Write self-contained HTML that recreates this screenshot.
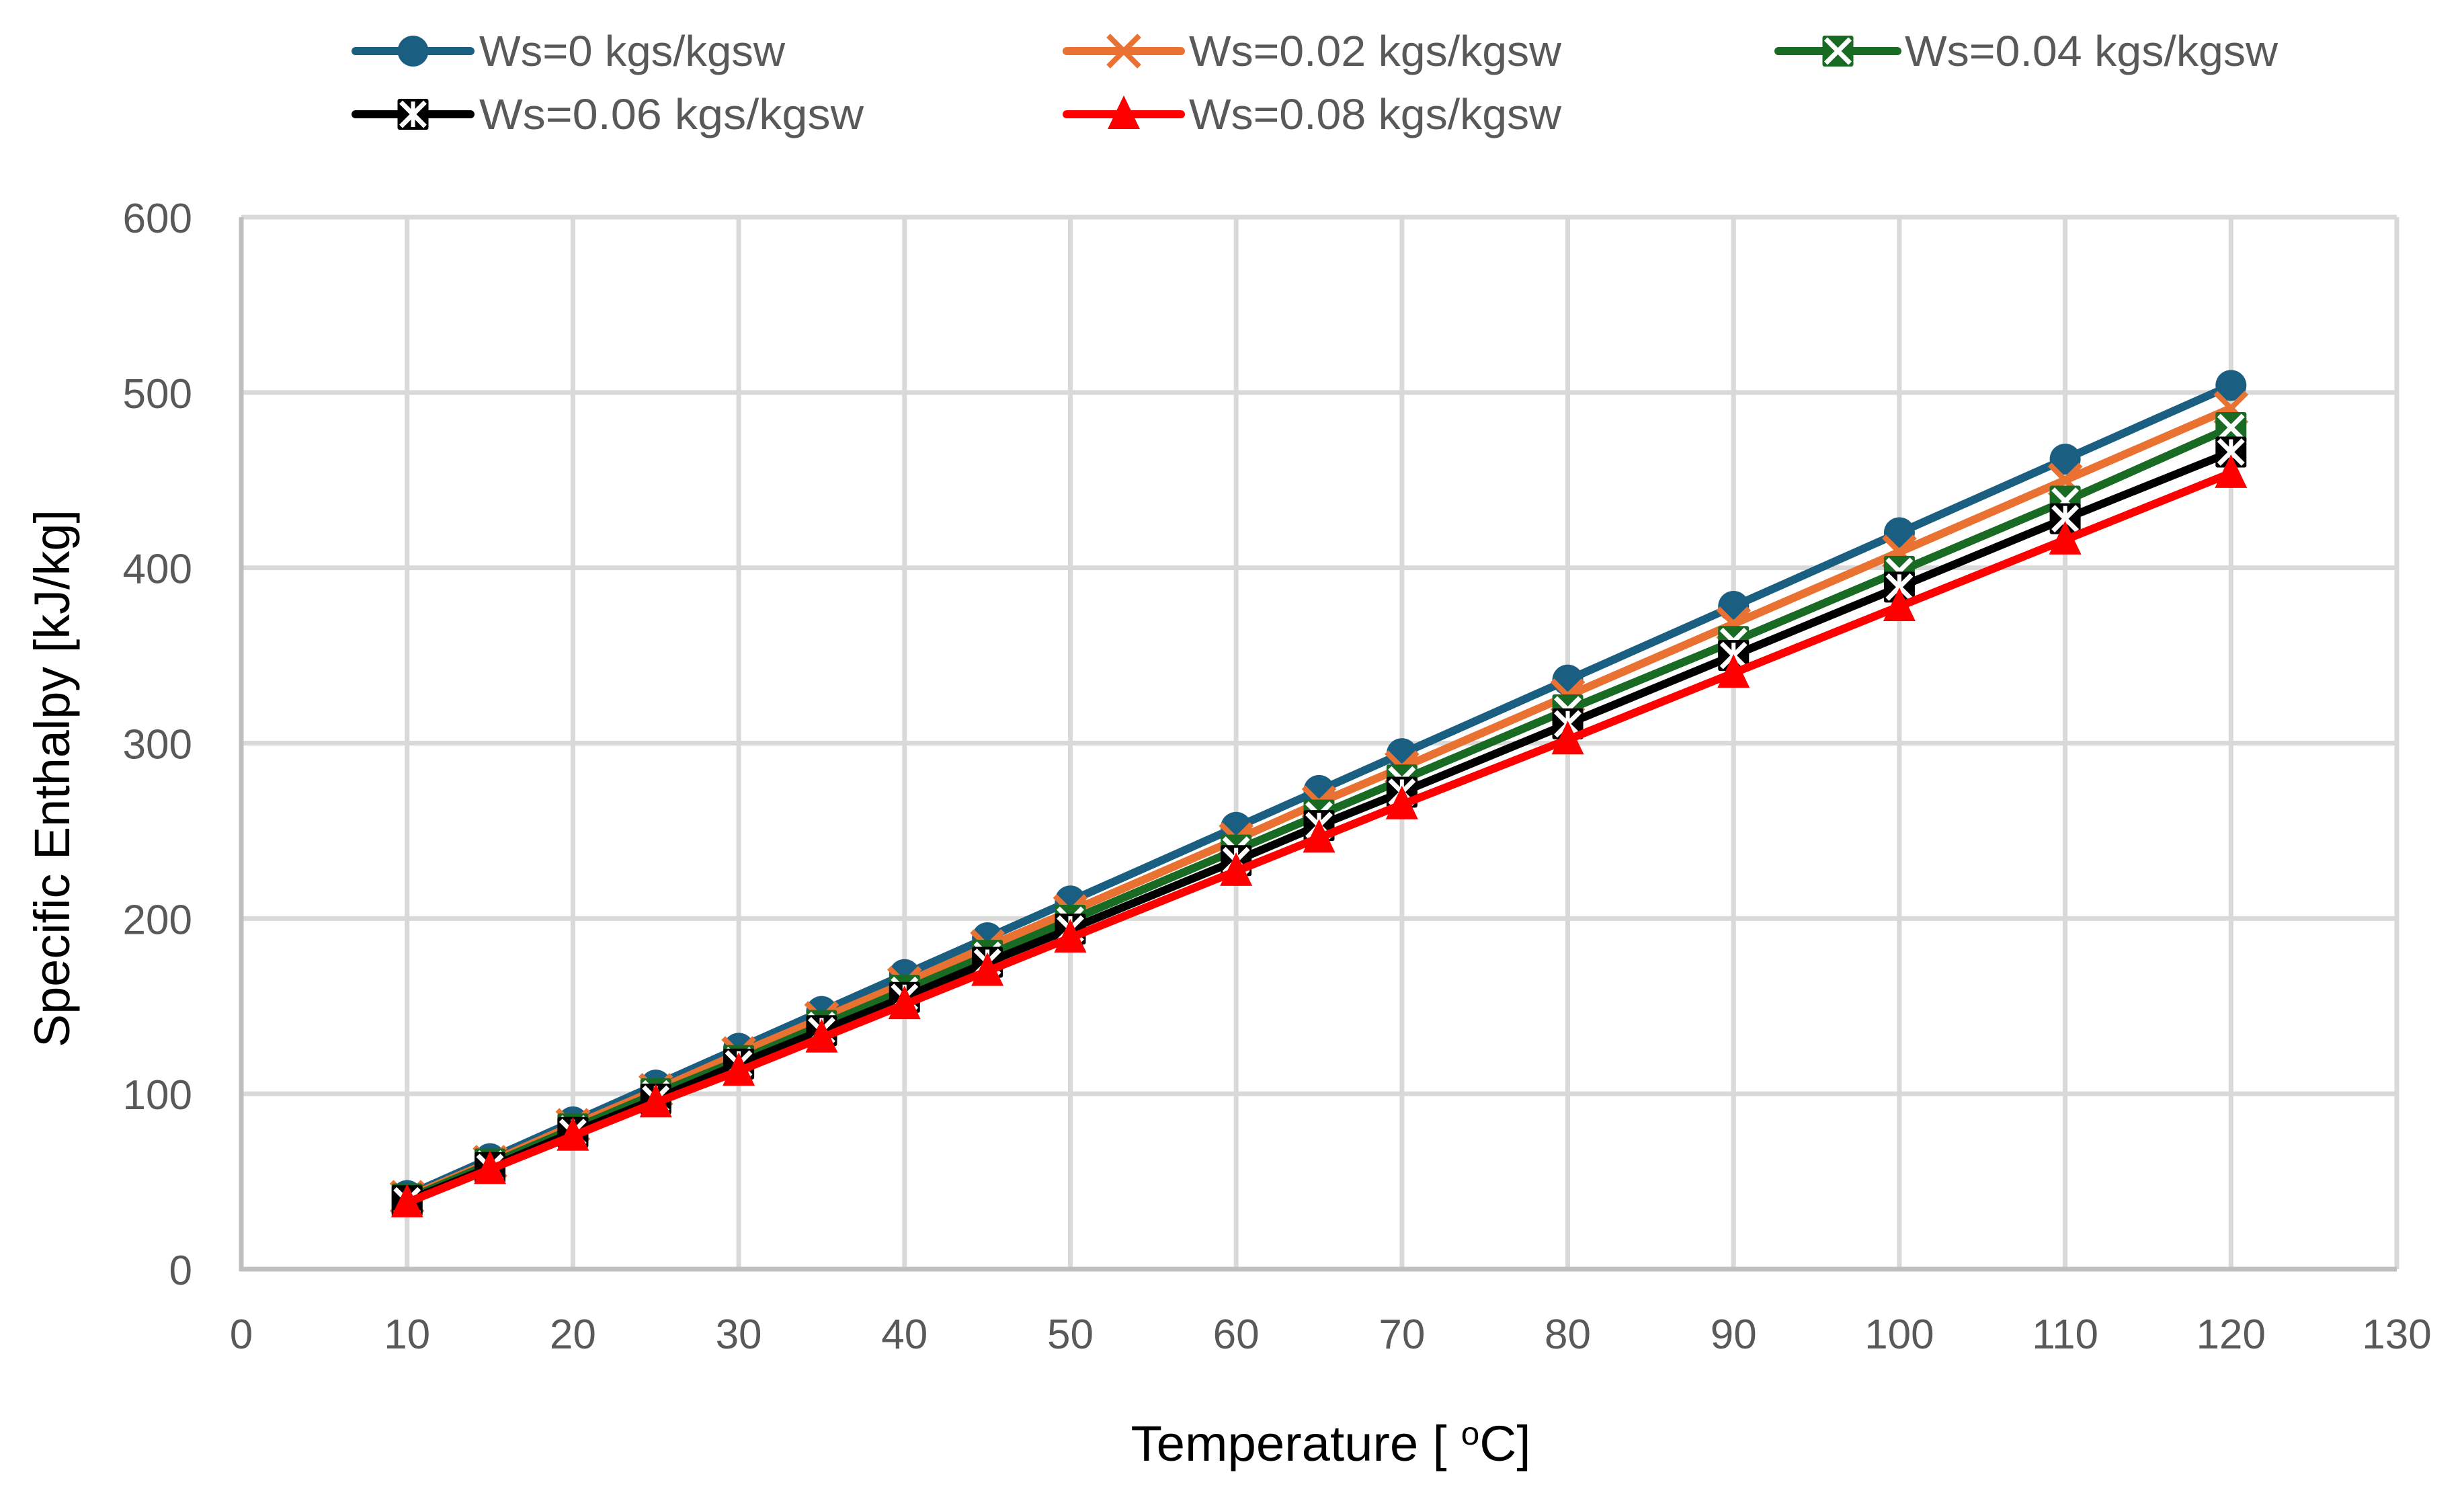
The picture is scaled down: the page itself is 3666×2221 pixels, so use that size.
<!DOCTYPE html>
<html><head><meta charset="utf-8">
<style>
html,body{margin:0;padding:0;background:#fff;}
svg{display:block;}
text{font-family:"Liberation Sans",sans-serif;}
</style></head>
<body>
<svg id="chart" width="3666" height="2221" viewBox="0 0 3666 2221" xmlns="http://www.w3.org/2000/svg">
<rect width="3666" height="2221" fill="#fff"/>
<g id="grid"></g>
<g id="axes"></g>
<g id="series"></g>
<g id="legend"></g>
<text x="1980" y="2173" font-size="74" text-anchor="middle" fill="#000" textLength="595" lengthAdjust="spacingAndGlyphs">Temperature [ <tspan font-size="48" dy="-24">o</tspan><tspan dy="24">C]</tspan></text>
<text transform="translate(103,1158) rotate(-90)" font-size="74" text-anchor="middle" fill="#000" textLength="800" lengthAdjust="spacingAndGlyphs">Specific Enthalpy [kJ/kg]</text>
</svg>
<script>
const temps = [10,15,20,25,30,35,40,45,50,60,65,70,80,90,100,110,120];
const ws0 = [42,63,84,105,126,147,168,189,210,252,273,294,336,378,420,462,504];
const ws02 = [41,61,82,102,123,143,163,184,204,245,266,286,327,368,409,450,491];
const ws04 = [40,60,80,100,119,139,159,179,199,239,259,279,319,358,398,438,480];
const ws06 = [39,58,78,97,117,136,155,175,194,233,253,272,311,350,389,428,466];
const ws08 = [38,57,76,95,113,132,151,170,189,227,246,265,302,340,378,416,454];
const xTicks = [0,10,20,30,40,50,60,70,80,90,100,110,120,130];
const yTicks = [0,100,200,300,400,500,600];
const seriesNames = ["Ws=0 kgs/kgsw","Ws=0.02 kgs/kgsw","Ws=0.04 kgs/kgsw","Ws=0.06  kgs/kgsw","Ws=0.08 kgs/kgsw"];

const NS="http://www.w3.org/2000/svg";
const X0=359, X1=3566, Y0=1888, Y1=323;
const xs=v=>X0+(v-0)/130*(X1-X0);
const ys=v=>Y0-(v-0)/600*(Y0-Y1);
function mk(tag,attrs,parent){const e=document.createElementNS(NS,tag);for(const k in attrs)e.setAttribute(k,attrs[k]);parent.appendChild(e);return e;}
const grid=document.getElementById('grid'), axes=document.getElementById('axes'), sg=document.getElementById('series'), lg=document.getElementById('legend');

xTicks.forEach(t=>{
  if(t>0){const l=mk('line',{x1:xs(t),x2:xs(t),y1:Y1,y2:Y0,stroke:'#D9D9D9','stroke-width':7},grid);
  
  }
  const tx=mk('text',{x:xs(t),y:2006,'font-size':62,'text-anchor':'middle',fill:'#595959'},axes);
  tx.textContent=t;
  
  
});
yTicks.forEach(t=>{
  if(t>0){const l=mk('line',{x1:X0,x2:X1,y1:ys(t),y2:ys(t),stroke:'#D9D9D9','stroke-width':7},grid);
  
  }
  const tx=mk('text',{x:286,y:ys(t)+23,'font-size':62,'text-anchor':'end',fill:'#595959'},axes);
  tx.textContent=t;
  
  
});
const ax=mk('line',{x1:X0,x2:X0,y1:Y1,y2:Y0+3,stroke:'#BFBFBF','stroke-width':7},axes);


const ax2=mk('line',{x1:X0-3,x2:X1,y1:Y0,y2:Y0,stroke:'#BFBFBF','stroke-width':7},axes);



const colors=['#1A5F82','#E97132','#196B24','#000000','#FF0000'];
const kinds=['circle','x','sqx','sqx','tri'];
function marker(kind,cx,cy,col,parent){
  const g=mk('g',{},parent);
  const r=23;
  if(kind==='circle'){mk('circle',{cx,cy,r:r,fill:col},g);}
  else if(kind==='x'){mk('path',{d:`M${cx-r} ${cy-r}L${cx+r} ${cy+r}M${cx+r} ${cy-r}L${cx-r} ${cy+r}`,stroke:col,'stroke-width':8},g);}
  else if(kind==='sqx'){mk('rect',{x:cx-r,y:cy-r,width:2*r,height:2*r,rx:3,fill:col},g);
    mk('path',{d:`M${cx-r+5} ${cy-r+5}L${cx+r-5} ${cy+r-5}M${cx+r-5} ${cy-r+5}L${cx-r+5} ${cy+r-5}`,stroke:'#fff','stroke-width':7},g);
    if(col==='#000000')mk('path',{d:`M${cx} ${cy-r+4}L${cx} ${cy+r-4}`,stroke:'#fff','stroke-width':6},g);}
  else if(kind==='tri'){mk('path',{d:`M${cx} ${cy-28}L${cx+24} ${cy+22}L${cx-24} ${cy+22}Z`,fill:col},g);}
  return g;
}
const allSeries=[ws0,ws02,ws04,ws06,ws08];
const seriesIds=['series-ws0','series-ws002','series-ws004','series-ws006','series-ws008'];
allSeries.forEach((vals,i)=>{
  const g=mk('g',{},sg);
  
  
  const pts=vals.map((v,j)=>xs(temps[j])+','+ys(v)).join(' ');
  const pl=mk('polyline',{points:pts,fill:'none',stroke:colors[i],'stroke-width':12,'stroke-linejoin':'round'},g);
  
  
  vals.forEach((v,j)=>{
    const m=marker(kinds[i],xs(temps[j]),ys(v),colors[i],g);
    
    
  });
});
// legend
const legPos=[[529,700,76,713,455],[1587,1757,76,1769,554],[2646,2823,76,2834,555],[529,700,170,713,572],[1587,1757,170,1769,554]];
legPos.forEach((p,i)=>{
  const g=mk('g',{},lg);
  
  
  mk('line',{x1:p[0],x2:p[1],y1:p[2],y2:p[2],stroke:colors[i],'stroke-width':12,'stroke-linecap':'round'},g);
  marker(kinds[i],(p[0]+p[1])/2,p[2],colors[i],g);
  const t=mk('text',{x:p[3],y:p[2]+22,'font-size':64,fill:'#595959',textLength:p[4],lengthAdjust:'spacingAndGlyphs'},g);
  t.textContent=seriesNames[i];
  
  
});
</script>
</body></html>
